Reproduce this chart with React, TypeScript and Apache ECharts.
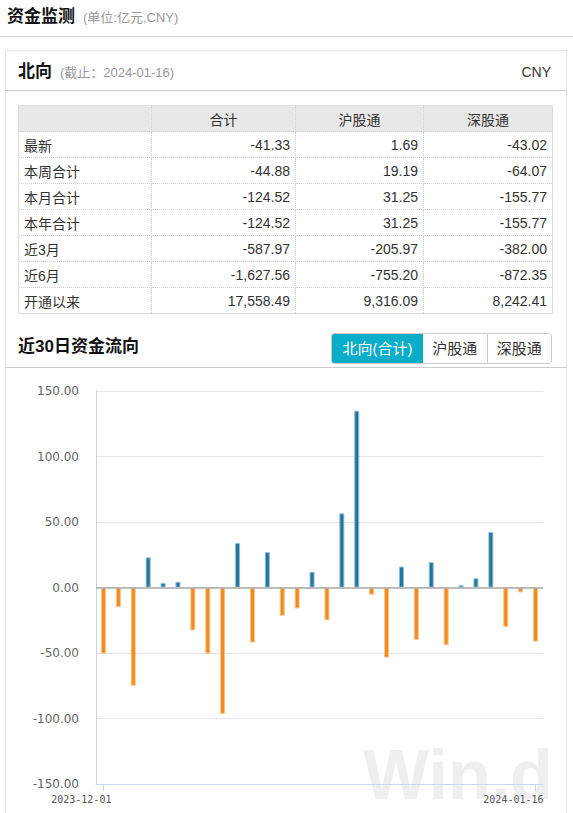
import React, { useEffect, useRef } from "react";
import * as echarts from "echarts";

const dates = [
  "2023-12-01", "2023-12-04", "2023-12-05", "2023-12-06", "2023-12-07", "2023-12-08",
  "2023-12-11", "2023-12-12", "2023-12-13", "2023-12-14", "2023-12-15",
  "2023-12-18", "2023-12-19", "2023-12-20", "2023-12-21", "2023-12-22",
  "2023-12-27", "2023-12-28", "2023-12-29",
  "2024-01-02", "2024-01-03", "2024-01-04", "2024-01-05",
  "2024-01-08", "2024-01-09", "2024-01-10", "2024-01-11", "2024-01-12",
  "2024-01-15", "2024-01-16",
];

const flows = [
  -50.5, -15, -75, 23, 3.5, 4.3, -32.8, -50.5, -96.5, 33.9,
  -42, 27, -21.5, -16, 12, -25, 56.6, 135, -5.5, -53.5,
  16, -40, 19.3, -44, 1.8, 7, 42.3, -30, -3.7, -41.33,
];

const yTicks = { min: -150, max: 150, interval: 50 };

const tableHeader = ["", "合计", "沪股通", "深股通"];
const rowLabels = ["最新", "本周合计", "本月合计", "本年合计", "近3月", "近6月", "开通以来"];
const totalCol = ["-41.33", "-44.88", "-124.52", "-124.52", "-587.97", "-1,627.56", "17,558.49"];
const shCol = ["1.69", "19.19", "31.25", "31.25", "-205.97", "-755.20", "9,316.09"];
const szCol = ["-43.02", "-64.07", "-155.77", "-155.77", "-382.00", "-872.35", "8,242.41"];

const tabs = ["北向(合计)", "沪股通", "深股通"];

const FONT = "Arial, 'Liberation Sans', 'Noto Sans CJK SC', sans-serif";
const BLUE = "#23749d";
const BLUE_EDGE = "#8dbcd4";
const ORANGE = "#f28a1e";
const ORANGE_EDGE = "#f9c48a";

function Chart() {
  const ref = useRef<HTMLDivElement>(null);
  useEffect(() => {
    if (!ref.current) return;
    const chart = echarts.init(ref.current, null, { renderer: "svg" });
    const showEnds = (i: number) => i === 0 || i === dates.length - 1;
    const barData = flows.map((v) => ({
      value: v,
      itemStyle: {
        color: v >= 0 ? BLUE : ORANGE,
        borderColor: v >= 0 ? BLUE_EDGE : ORANGE_EDGE,
        borderWidth: 1,
      },
    }));
    chart.setOption({
      animation: false,
      grid: { left: 90, top: 23, right: 23, bottom: 29, containLabel: false },
      graphic: [
        {
          type: "text",
          left: 357,
          top: 372,
          z: -10,
          silent: true,
          style: {
            text: "Win.d",
            fontSize: 70,
            fontWeight: "bold",
            fontFamily: "'Liberation Sans', Arial, sans-serif",
            fill: "#efefef",
          },
        },
      ],
      xAxis: {
        type: "category",
        data: dates,
        boundaryGap: true,
        axisLine: { onZero: false, lineStyle: { color: "#ccd6eb" } },
        axisTick: { show: true, interval: (i: number) => showEnds(i), alignWithLabel: true, length: 7, lineStyle: { color: "#ccd6eb" } },
        axisLabel: {
          interval: (i: number) => showEnds(i),
          fontSize: 10,
          fontFamily: "'DejaVu Sans Mono', monospace",
          color: "#555",
          align: "right",
          padding: [0, -8, 0, 0],
          margin: 10,
        },
        splitLine: { show: false },
      },
      yAxis: {
        type: "value",
        min: yTicks.min,
        max: yTicks.max,
        interval: yTicks.interval,
        axisLine: { show: true, lineStyle: { color: "#ccd6eb" } },
        axisTick: { show: false },
        axisLabel: {
          formatter: (v: number) => v.toFixed(2),
          fontSize: 12,
          fontFamily: "'DejaVu Sans', sans-serif",
          color: "#666",
          margin: 17,
        },
        splitLine: { show: true, lineStyle: { color: "#e6e6e6" } },
      },
      series: [
        {
          type: "bar",
          data: barData,
          barWidth: 5,
          markLine: {
            silent: true,
            symbol: "none",
            label: { show: false },
            lineStyle: { color: "#aaa", width: 1.5, type: "solid" },
            data: [{ yAxis: 0 }],
          },
        },
      ],
    });
    return () => chart.dispose();
  }, []);
  return <div ref={ref} style={{ position: "absolute", left: 6, top: 368, width: 560, height: 445 }} />;
}

export default function App() {
  const colWidths = [133, 144, 128, 129];
  const cellBase: React.CSSProperties = {
    border: "1px dotted #cfcfcf",
    height: 25,
    padding: "0 5px",
    fontSize: 14,
    color: "#333",
    whiteSpace: "nowrap",
    boxSizing: "border-box",
  };
  return (
    <div style={{ position: "absolute", left: 0, top: 0, width: 573, height: 813, background: "#fff", fontFamily: FONT, overflow: "hidden" }}>
      <div style={{ position: "absolute", left: 7, top: 6, height: 22, lineHeight: "22px", whiteSpace: "nowrap" }}>
        <span style={{ fontSize: 17, fontWeight: "bold", color: "#111" }}>资金监测</span>
        <span style={{ fontSize: 13, color: "#999", marginLeft: 8 }}>(单位:亿元,CNY)</span>
      </div>
      <div style={{ position: "absolute", left: 0, top: 36, width: 573, height: 1, background: "#cccccc" }} />

      <div style={{ position: "absolute", left: 5, top: 50, width: 562, height: 800, border: "1px solid #e6e6e6", boxSizing: "border-box" }} />

      <div style={{ position: "absolute", left: 18, top: 61, height: 22, lineHeight: "22px", whiteSpace: "nowrap" }}>
        <span style={{ fontSize: 17, fontWeight: "bold", color: "#111" }}>北向</span>
        <span style={{ fontSize: 13, color: "#999", marginLeft: 8 }}>(截止：2024-01-16)</span>
      </div>
      <div style={{ position: "absolute", right: 22, top: 61, height: 22, lineHeight: "22px", fontSize: 14, color: "#333" }}>CNY</div>
      <div style={{ position: "absolute", left: 5, top: 90, width: 562, height: 1, background: "#cccccc" }} />

      <table
        style={{
          position: "absolute",
          left: 18,
          top: 105,
          width: 535,
          borderCollapse: "collapse",
          tableLayout: "fixed",
          border: "1px solid #dddddd",
          fontFamily: FONT,
        }}
      >
        <colgroup>
          {colWidths.map((w, i) => (
            <col key={i} style={{ width: w }} />
          ))}
        </colgroup>
        <thead>
          <tr style={{ background: "#e8e8e8" }}>
            {tableHeader.map((h, i) => (
              <th key={i} style={{ ...cellBase, height: 26, fontWeight: "normal", textAlign: "center" }}>
                {h}
              </th>
            ))}
          </tr>
        </thead>
        <tbody>
          {rowLabels.map((label, r) => (
            <tr key={label}>
              <td style={{ ...cellBase, textAlign: "left", height: 26 }}>{label}</td>
              <td style={{ ...cellBase, textAlign: "right", height: 26 }}>{totalCol[r]}</td>
              <td style={{ ...cellBase, textAlign: "right", height: 26 }}>{shCol[r]}</td>
              <td style={{ ...cellBase, textAlign: "right", height: 26 }}>{szCol[r]}</td>
            </tr>
          ))}
        </tbody>
      </table>

      <div style={{ position: "absolute", left: 18, top: 336, height: 22, lineHeight: "22px", fontSize: 17, fontWeight: "bold", color: "#111", whiteSpace: "nowrap" }}>
        近30日资金流向
      </div>
      <div
        style={{
          position: "absolute",
          left: 331,
          top: 333,
          width: 221,
          height: 31,
          display: "flex",
          border: "1px solid #cccccc",
          borderRadius: 3,
          boxSizing: "border-box",
          overflow: "hidden",
        }}
      >
        {tabs.map((t, i) => (
          <div
            key={t}
            style={{
              width: i === 0 ? 92 : i === 1 ? 64 : 65,
              height: "100%",
              lineHeight: "29px",
              textAlign: "center",
              fontSize: 15,
              color: i === 0 ? "#fff" : "#333",
              background: i === 0 ? "#0aaec8" : "#fff",
              borderLeft: i === 2 ? "1px solid #cccccc" : "none",
              boxSizing: "border-box",
              whiteSpace: "nowrap",
            }}
          >
            {t}
          </div>
        ))}
      </div>
      <div style={{ position: "absolute", left: 5, top: 367, width: 562, height: 1, background: "#cccccc" }} />

      <Chart />
    </div>
  );
}
